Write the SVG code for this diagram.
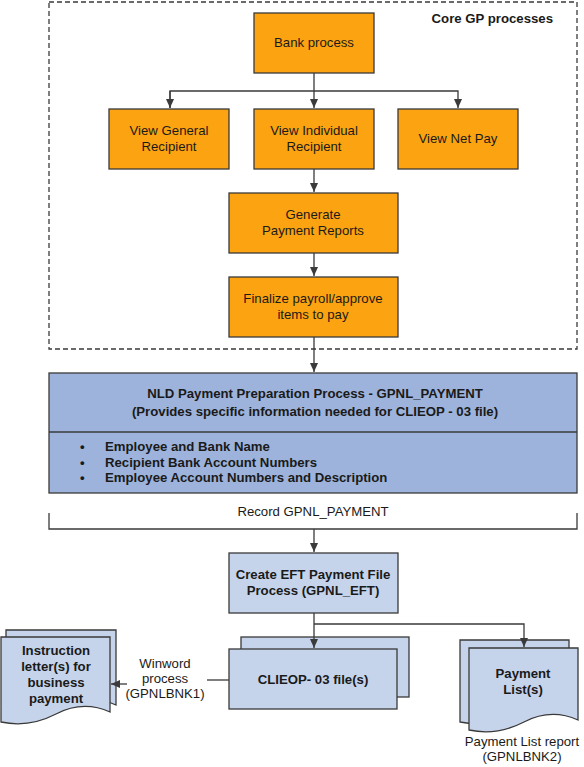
<svg xmlns="http://www.w3.org/2000/svg" width="584" height="767" viewBox="0 0 584 767">
<defs>
<style>
.o{fill:#FCA311;stroke:#3a3a3a;stroke-width:1.3}
.b{fill:#C6D4EB;stroke:#3a3a3a;stroke-width:1.3}
.n{fill:#9DB3DB;stroke:#3a3a3a;stroke-width:1.3}
.c{fill:none;stroke:#3a3a3a;stroke-width:1.3}
text{font-family:"Liberation Sans",Arial,sans-serif;fill:#1a1a1a}
.t{font-size:13.2px;text-anchor:middle}
.tb{font-size:13.2px;font-weight:bold;text-anchor:middle}
.bl{font-size:13.2px;font-weight:bold}
</style>
<marker id="ar" markerWidth="10" markerHeight="10" refX="9" refY="5" orient="auto" markerUnits="userSpaceOnUse">
<path d="M0,1 L9,5 L0,9 Z" fill="#3a3a3a"/>
</marker>
</defs>
<rect width="584" height="767" fill="#ffffff"/>
<g id="core-group">
<rect x="49" y="2" width="528" height="347" fill="none" stroke="#3a3a3a" stroke-width="1.3" stroke-dasharray="5,3"/>
<text class="bl" x="553" y="23" text-anchor="end">Core GP processes</text>
</g>
<g id="bank-process">
<rect class="o" x="254" y="13" width="120" height="60"/>
<text class="t" x="314" y="47">Bank process</text>
</g>
<g id="view-general">
<rect class="o" x="109" y="109" width="120" height="60"/>
<text class="t" x="169" y="135">View General</text>
<text class="t" x="169" y="151">Recipient</text>
</g>
<g id="view-individual">
<rect class="o" x="254" y="109" width="120" height="60"/>
<text class="t" x="314" y="135">View Individual</text>
<text class="t" x="314" y="151">Recipient</text>
</g>
<g id="view-net-pay">
<rect class="o" x="398" y="109" width="120" height="60"/>
<text class="t" x="458" y="143">View Net Pay</text>
</g>
<g id="generate">
<rect class="o" x="229" y="193" width="169" height="60"/>
<text class="t" x="313" y="219">Generate</text>
<text class="t" x="313" y="235">Payment Reports</text>
</g>
<g id="finalize">
<rect class="o" x="229" y="277" width="169" height="60"/>
<text class="t" x="313" y="303">Finalize payroll/approve</text>
<text class="t" x="313" y="319">items to pay</text>
</g>
<g id="nld">
<rect class="n" x="49" y="373" width="528" height="120"/>
<line class="c" x1="49" y1="432" x2="577" y2="432"/>
<text class="tb" x="315" y="398">NLD Payment Preparation Process - GPNL_PAYMENT</text>
<text class="tb" x="315" y="416">(Provides specific information needed for CLIEOP - 03 file)</text>
<text class="bl" x="80" y="451">•</text>
<text class="bl" x="80" y="467">•</text>
<text class="bl" x="80" y="482">•</text>
<text class="bl" x="105" y="451">Employee and Bank Name</text>
<text class="bl" x="105" y="467">Recipient Bank Account Numbers</text>
<text class="bl" x="105" y="482">Employee Account Numbers and Description</text>
</g>
<g id="record">
<text class="t" x="313" y="516">Record GPNL_PAYMENT</text>
</g>
<g id="create-eft">
<rect class="b" x="229" y="553" width="169" height="60"/>
<text class="tb" x="313" y="579">Create EFT Payment File</text>
<text class="tb" x="313" y="595">Process (GPNL_EFT)</text>
</g>
<g id="clieop">
<rect class="b" x="241" y="637" width="168" height="60"/>
<rect class="b" x="229" y="649" width="168" height="60"/>
<text class="tb" x="313" y="684">CLIEOP- 03 file(s)</text>
</g>
<g id="winword">
<text class="t" x="165" y="668">Winword</text>
<text class="t" x="165" y="683">process</text>
<text class="t" x="165" y="698">(GPNLBNK1)</text>
</g>
<g id="instruction-letter">
<path class="b" d="M6,630 H116 V705 Q89,693 62,707 T6,715 Z"/>
<path class="b" d="M1,637 H110 V712 Q83,700 56,714 T1,722 Z"/>
<text class="tb" x="56" y="655">Instruction</text>
<text class="tb" x="56" y="671">letter(s) for</text>
<text class="tb" x="56" y="687">business</text>
<text class="tb" x="56" y="703">payment</text>
</g>
<g id="payment-list">
<path class="b" d="M460,640 H569 V712 Q542,700 515,714 T460,722 Z"/>
<path class="b" d="M469,648 H578 V720 Q551,708 524,722 T469,730 Z"/>
<text class="tb" x="523" y="678">Payment</text>
<text class="tb" x="523" y="694">List(s)</text>
</g>
<g id="payment-list-report">
<text class="t" x="522" y="746">Payment List report</text>
<text class="t" x="522" y="761">(GPNLBNK2)</text>
</g>
<g id="connectors">
<line class="c" x1="314" y1="73" x2="314" y2="108" marker-end="url(#ar)"/>
<polyline class="c" points="170,108 170,91 458,91 458,108" marker-end="url(#ar)"/>
<line class="c" x1="170" y1="91" x2="170" y2="108" marker-end="url(#ar)"/>
<line class="c" x1="314" y1="169" x2="314" y2="192" marker-end="url(#ar)"/>
<line class="c" x1="314" y1="253" x2="314" y2="276" marker-end="url(#ar)"/>
<line class="c" x1="314" y1="337" x2="314" y2="372" marker-end="url(#ar)"/>
<path class="c" d="M49,513 V529 H577 V513"/>
<line class="c" x1="314" y1="529" x2="314" y2="552" marker-end="url(#ar)"/>
<line class="c" x1="314" y1="613" x2="314" y2="648" marker-end="url(#ar)"/>
<polyline class="c" points="314,624 524,624 524,647" marker-end="url(#ar)"/>
<line class="c" x1="229" y1="680" x2="207" y2="680"/>
<line class="c" x1="127" y1="684" x2="111" y2="684" marker-end="url(#ar)"/>
</g>
</svg>
